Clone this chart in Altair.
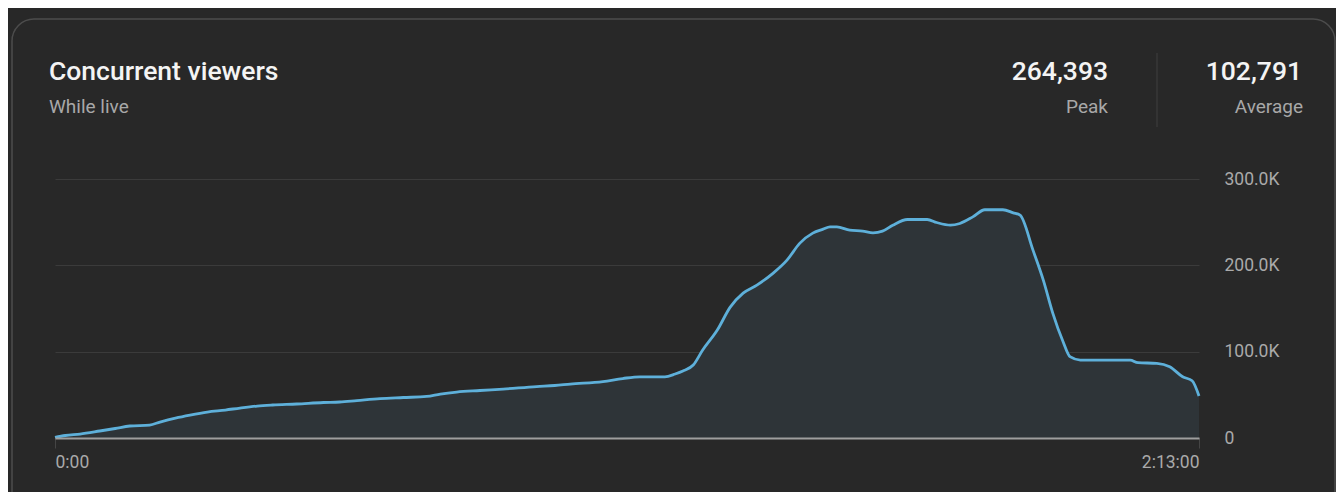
import altair as alt
import pandas as pd

# ---- data ----
minutes = [0, 1.2, 2.9, 5.2, 7.0, 8.7, 11.0, 12.2, 14.0, 15.7,
           17.7, 19.8, 21.5, 23.5, 25.3, 28.1, 31.2, 33.1, 35.1, 37.8,
           40.5, 43.2, 44.8, 46.7, 49.4, 52.1, 56.0, 58.1, 59.9, 63.7,
           66.0, 68.0, 70.9, 72.1, 73.0, 74.2, 75.3, 77.0, 78.5, 80.0,
           81.6, 83.5, 85.1, 86.6, 88.1, 89.3, 90.1, 90.9, 92.4, 93.9,
           95.1, 96.2, 97.4, 99.1, 101.4, 102.5, 104.1, 105.2, 106.7, 108.1,
           110.2, 111.4, 112.2, 113.7, 114.9, 116.0, 117.2, 118.0, 119.2, 125.0,
           125.9, 128.1, 129.6, 131.1, 132.2, 133.0]
viewers_k = [0.6, 2.9, 4.6, 8.1, 11.0, 13.9, 15.0, 18.5, 23.1, 26.6,
             30.1, 32.4, 34.7, 37.0, 38.2, 39.4, 41.1, 41.7, 43.4, 45.7,
             46.9, 48.1, 50.9, 53.2, 55.0, 56.7, 59.6, 60.8, 62.5, 65.4,
             68.9, 70.9, 70.9, 74.1, 77.5, 84.5, 101.9, 125.0, 151.6, 167.8,
             177.1, 191.0, 206.0, 225.7, 237.3, 241.9, 244.6, 244.6, 240.7, 239.6,
             237.6, 239.6, 246.5, 253.1, 253.1, 249.6, 246.5, 248.5, 256.1, 264.4,
             264.4, 260.8, 258.1, 217.6, 182.9, 144.7, 111.5, 94.2, 90.3, 90.3,
             87.2, 86.5, 82.5, 70.9, 66.3, 48.6]

x_tick_values = [0, 133]
x_tick_labels = ["0:00", "2:13:00"]
y_tick_values = [0, 100, 200, 300]

title_text = "Concurrent viewers"
subtitle_text = "While live"
stat_values = ["264,393", "102,791"]
stat_labels = ["Peak", "Average"]

df = pd.DataFrame({"minute": minutes, "viewers": viewers_k})
one = pd.DataFrame({"k": [0]})

W, H = 1144, 259
FONT = "Roboto"

x_label_expr = (f"datum.value == {x_tick_values[0]} ? '{x_tick_labels[0]}' : "
                f"'{x_tick_labels[1]}'")

x_enc = alt.X("minute:Q",
              scale=alt.Scale(domain=[x_tick_values[0], x_tick_values[1]], nice=False, zero=False),
              axis=alt.Axis(values=x_tick_values, labelExpr=x_label_expr, title=None,
                            grid=False, domainColor="#9e9e9e", domainWidth=2,
                            tickColor="#454545", tickSize=10, tickWidth=1,
                            labelFlush=True, labelPadding=5, labelFontSize=17.5,
                            labelColor="#aaaaaa", labelFont=FONT, zindex=1))
y_enc = alt.Y("viewers:Q",
              scale=alt.Scale(domain=[0, 300], nice=False),
              axis=alt.Axis(orient="right", values=y_tick_values, title=None,
                            labelExpr="datum.value == 0 ? '0' : format(datum.value, '.1f') + 'K'",
                            domain=False, ticks=False, labelPadding=25,
                            labelFontSize=17.5, labelColor="#aaaaaa", labelFont=FONT,
                            labelAlign="left", labelBaseline="middle",
                            gridColor="#3b3b3b", gridWidth=1, zindex=0))

area = alt.Chart(df).mark_area(color="#2e3438", interpolate="monotone", opacity=1).encode(
    x=x_enc, y=y_enc)
line = alt.Chart(df).mark_line(color="#5eb0da", strokeWidth=2.8, interpolate="monotone").encode(
    x="minute:Q", y="viewers:Q")

card = alt.Chart(one).mark_rect(fillOpacity=0, stroke="#4c4c4c", strokeWidth=1.5,
                                cornerRadius=22).encode(
    x=alt.value(-43), x2=alt.value(1280), y=alt.value(-160), y2=alt.value(360))

def txt(text, x, y, size, color, align="left", weight=400):
    return alt.Chart(one).mark_text(text=text, align=align, baseline="alphabetic",
                                    fontSize=size, font=FONT, fontWeight=weight,
                                    color=color).encode(x=alt.value(x), y=alt.value(y))

title = txt(title_text, -6, -99, 26.5, "#f4f4f4", weight=500)
subtitle = txt(subtitle_text, -6, -66, 19, "#a8a8a8")
peak_v = txt(stat_values[0], 1053, -99, 26.5, "#f4f4f4", align="right", weight=500)
peak_l = txt(stat_labels[0], 1053, -66, 19, "#a8a8a8", align="right")
avg_v = txt(stat_values[1], 1247, -99, 26.5, "#f4f4f4", align="right", weight=500)
avg_l = txt(stat_labels[1], 1248, -66, 19, "#a8a8a8", align="right")

sep = alt.Chart(one).mark_rule(color="#3e3e3e", strokeWidth=1).encode(
    x=alt.value(1102), y=alt.value(-126), y2=alt.value(-52))

chart = alt.layer(area, line, card, sep, title, subtitle, peak_v, peak_l, avg_v, avg_l).properties(
    width=W, height=H,
    autosize=alt.AutoSizeParams(type="none"),
    padding={"left": 47, "top": 171, "right": 137, "bottom": 54},
    background="#282828",
).configure_view(stroke=None)

chart.save("out.html", embed_options={"renderer": "svg", "actions": False})
